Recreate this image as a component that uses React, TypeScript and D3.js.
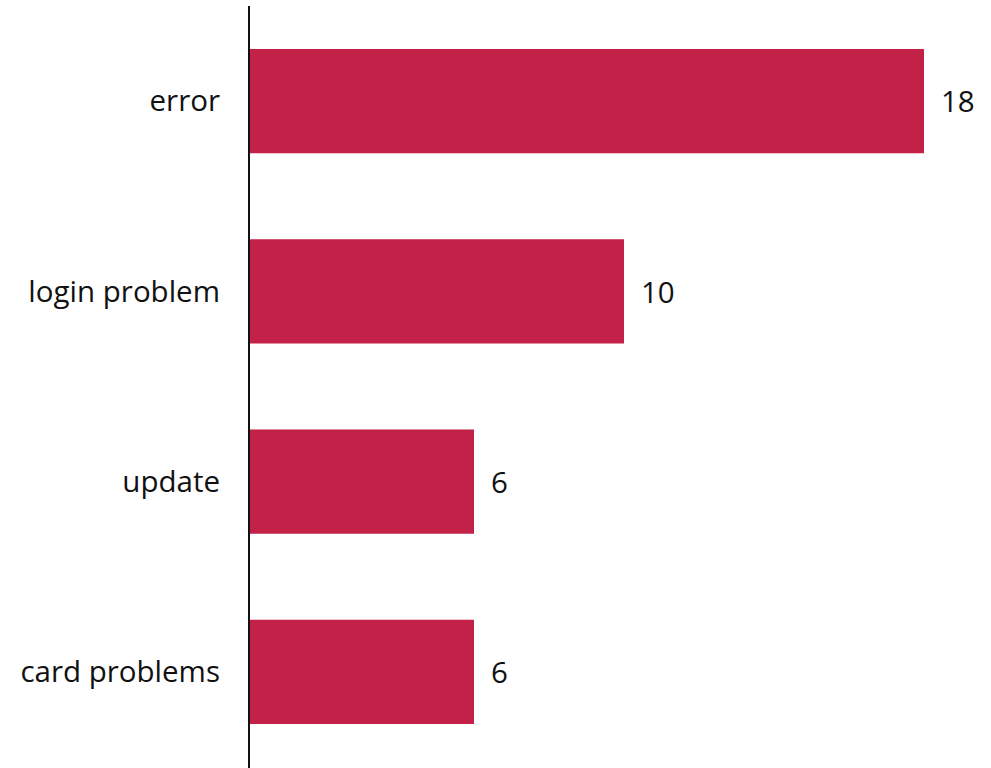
import React from "react";
import * as d3 from "d3";

const categories = ["error", "login problem", "update", "card problems"];
const counts = [18, 10, 6, 6];

const W = 991;
const H = 768;

export default function App() {
  const x = d3.scaleLinear().domain([0, 18]).range([249, 924]);
  const y = d3.scaleBand<string>().domain(categories).range([6, 767]).paddingInner(0.452).paddingOuter(0.226);
  const font = "'Open Sans', sans-serif";
  return (
    <svg width={W} height={H} style={{ position: "absolute", left: 0, top: 0, background: "#fff" }}>
      {categories.map((c, i) => {
        const y0 = y(c)!;
        const bw = y.bandwidth();
        return (
          <g key={c}>
            <rect x={x(0)} y={y0} width={x(counts[i]) - x(0)} height={bw} fill="#C32148" />
            <text x={220} y={y0 + bw / 2} dy="0.35em" textAnchor="end" fontFamily={font} fontSize={29.5} fill="#111">{c}</text>
            <text x={x(counts[i]) + 17} y={y0 + bw / 2 + 1} dy="0.35em" textAnchor="start" fontFamily={font} fontSize={29.5} fill="#111">{counts[i]}</text>
          </g>
        );
      })}
      <line x1={x(0)} x2={x(0)} y1={6} y2={H} stroke="#111" strokeWidth={2} />
    </svg>
  );
}
